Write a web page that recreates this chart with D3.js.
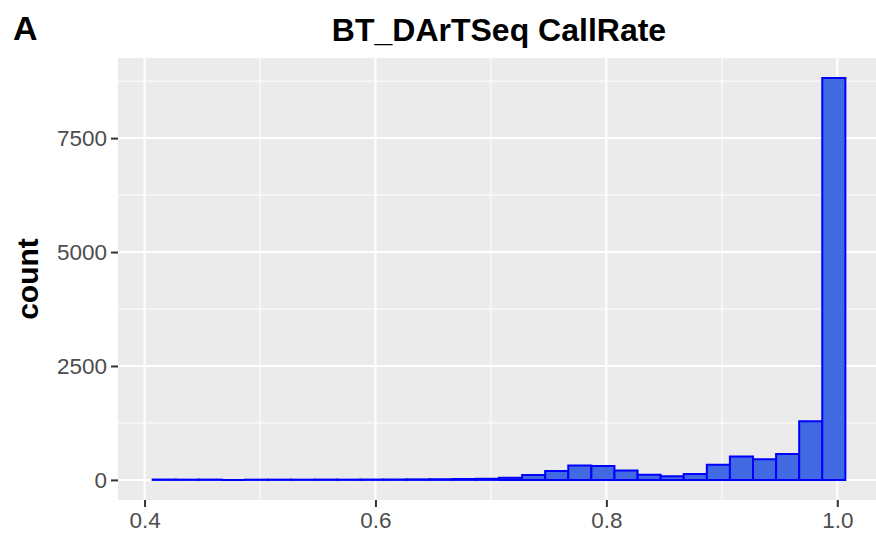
<!DOCTYPE html>
<html>
<head>
<meta charset="utf-8">
<script src="https://cdn.jsdelivr.net/npm/d3@7"></script>
<style>
  body { margin: 0; background: #fff; }
  svg { display: block; font-family: "Liberation Sans", Arial, sans-serif; }
</style>
</head>
<body>
<div id="chart"></div>
<script>
// bin edges of the CallRate histogram (30 bins)
var binEdges = [0.407, 0.427, 0.447, 0.467, 0.487, 0.507, 0.527, 0.547, 0.567, 0.587,
                0.607, 0.627, 0.647, 0.667, 0.687, 0.707, 0.727, 0.747, 0.767, 0.787,
                0.807, 0.827, 0.847, 0.867, 0.887, 0.907, 0.927, 0.947, 0.967, 0.987, 1.007];
var counts = [8, 6, 7, 0, 5, 6, 5, 7, 6, 8,
              9, 12, 15, 20, 25, 50, 105, 195, 318, 305,
              208, 113, 80, 130, 335, 512, 454, 567, 1288, 8817];
var xTicks = [0.4, 0.6, 0.8, 1.0];
var xMinor = [0.5, 0.7, 0.9];
var yTicks = [0, 2500, 5000, 7500];
var yMinor = [1250, 3750, 6250, 8750];
var title = "BT_DArTSeq CallRate";
var yTitle = "count";
var tag = "A";

;(function(){
  var width = 876, height = 535;
  var panel = {left: 118, top: 58, right: 880, bottom: 500};

  var svg = d3.select("#chart").append("svg")
              .attr("width", width)
              .attr("height", height);

  var bins = counts.map(function(c, i){
    return {x0: binEdges[i], x1: binEdges[i + 1], count: c};
  });

  // ggplot style 5% expansion
  var xSpan = binEdges[binEdges.length - 1] - binEdges[0];
  var ySpan = d3.max(counts);
  var x = d3.scaleLinear()
            .domain([binEdges[0] - xSpan * 0.05, binEdges[binEdges.length - 1] + xSpan * 0.05])
            .range([panel.left, panel.right]);
  var y = d3.scaleLinear()
            .domain([-ySpan * 0.05, ySpan * 1.05])
            .range([panel.bottom, panel.top]);

  svg.append("rect")
     .attr("x", panel.left)
     .attr("y", panel.top)
     .attr("width", panel.right - panel.left)
     .attr("height", panel.bottom - panel.top)
     .attr("fill", "#EBEBEB");

  var grid = svg.append("g");
  grid.selectAll(".xminor").data(xMinor).enter().append("line")
      .attr("x1", function(d){ return x(d); }).attr("x2", function(d){ return x(d); })
      .attr("y1", panel.top).attr("y2", panel.bottom)
      .attr("stroke", "#fff").attr("stroke-width", 1);
  grid.selectAll(".yminor").data(yMinor).enter().append("line")
      .attr("x1", panel.left).attr("x2", panel.right)
      .attr("y1", function(d){ return y(d); }).attr("y2", function(d){ return y(d); })
      .attr("stroke", "#fff").attr("stroke-width", 1);
  grid.selectAll(".xmajor").data(xTicks).enter().append("line")
      .attr("x1", function(d){ return x(d); }).attr("x2", function(d){ return x(d); })
      .attr("y1", panel.top).attr("y2", panel.bottom)
      .attr("stroke", "#fff").attr("stroke-width", 2);
  grid.selectAll(".ymajor").data(yTicks).enter().append("line")
      .attr("x1", panel.left).attr("x2", panel.right)
      .attr("y1", function(d){ return y(d); }).attr("y2", function(d){ return y(d); })
      .attr("stroke", "#fff").attr("stroke-width", 2);

  // paths so that empty bins still show their outline on the baseline
  svg.append("g").selectAll("path")
     .data(bins)
     .enter()
     .append("path")
     .attr("d", function(d){
       var a = x(d.x0), b = x(d.x1), t = y(d.count), z = y(0);
       return "M" + a + "," + z + "L" + a + "," + t + "L" + b + "," + t + "L" + b + "," + z + "Z";
     })
     .attr("fill", "#4169E1")
     .attr("stroke", "#0000FF")
     .attr("stroke-width", 2);

  var xAxis = svg.append("g")
                 .attr("transform", "translate(0," + panel.bottom + ")")
                 .call(d3.axisBottom(x).tickValues(xTicks).tickSize(7).tickPadding(5)
                         .tickFormat(d3.format(".1f")));
  var yAxis = svg.append("g")
                 .attr("transform", "translate(" + panel.left + ",0)")
                 .call(d3.axisLeft(y).tickValues(yTicks).tickSize(7).tickPadding(4)
                         .tickFormat(d3.format("d")));

  [xAxis, yAxis].forEach(function(ax){
    ax.select(".domain").remove();
    ax.selectAll(".tick line").attr("stroke", "#333333").attr("stroke-width", 2);
    ax.selectAll(".tick text")
      .attr("fill", "#4D4D4D")
      .style("font-size", "22.5px")
      .style("font-family", "'Liberation Sans', Arial, sans-serif");
  });

  svg.append("text")
     .attr("x", (panel.left + panel.right) / 2)
     .attr("y", 41)
     .attr("text-anchor", "middle")
     .style("font-size", "32px")
     .style("font-weight", "bold")
     .text(title);

  svg.append("text")
     .attr("transform", "translate(38," + (panel.top + panel.bottom) / 2 + ") rotate(-90)")
     .attr("text-anchor", "middle")
     .style("font-size", "30px")
     .style("font-weight", "bold")
     .text(yTitle);

  svg.append("text")
     .attr("x", 13)
     .attr("y", 40)
     .style("font-size", "34px")
     .style("font-weight", "bold")
     .text(tag);
})();
</script>
</body>
</html>
